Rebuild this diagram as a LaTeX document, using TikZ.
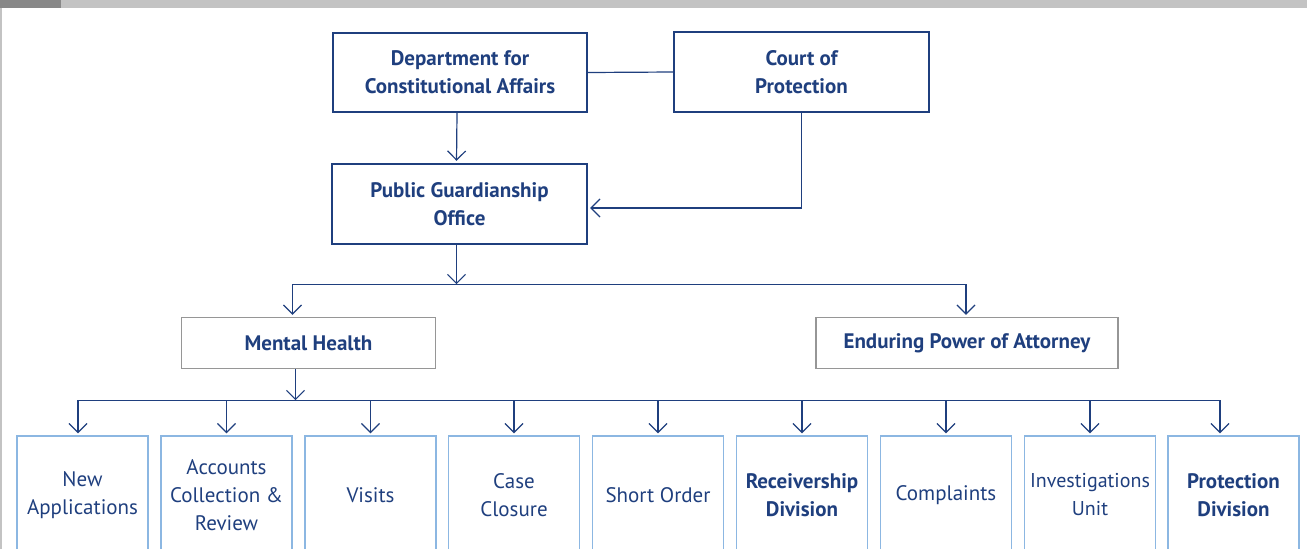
\documentclass[tikz,border=0pt]{standalone}
\usepackage{fontspec}
\setmainfont{PT Sans}
\usetikzlibrary{arrows.meta,calc}
\definecolor{navy}{RGB}{31,63,126}
\definecolor{lblue}{RGB}{140,183,226}
\definecolor{mgray}{RGB}{150,150,150}
\definecolor{barA}{RGB}{136,136,136}
\definecolor{barB}{RGB}{195,195,195}
\begin{document}
\begin{tikzpicture}[x=1pt,y=-1pt,
  every node/.style={text=navy,align=center,inner sep=0pt},
  topbox/.style={draw=navy,line width=2.4pt,font=\bfseries\fontsize{21}{28}\selectfont},
  courtbox/.style={draw=navy,line width=1.4pt,font=\bfseries\fontsize{21}{28}\selectfont},
  midbox/.style={draw=mgray,line width=1.4pt,minimum height=51pt,font=\bfseries\fontsize{21}{28}\selectfont},
  unitbox/.style={draw=lblue,line width=1.4pt,minimum width=131pt,minimum height=118pt,font=\fontsize{21}{28}\selectfont},
  boldunit/.style={unitbox,font=\bfseries\fontsize{21}{28}\selectfont},
  conn/.style={draw=navy,line width=1.2pt},
  arr/.style={conn,-{Straight Barb[length=9pt,width=18pt]},shorten >=2pt}]
\useasboundingbox (0,0) rectangle (1307,549);
% top bar and left rule
\fill[barB] (61,0) rectangle (1307,8);
\fill[barA] (0,0) rectangle (61,8);
\fill[barB] (0,8) rectangle (1.5,549);
% top nodes
\node[topbox,minimum width=254pt,minimum height=79pt] (dca) at (460,72.5) {Department for\\Constitutional Affairs};
\node[courtbox,minimum width=255pt,minimum height=80pt] (court) at (801.5,72) {Court of\\Protection};
\node[topbox,minimum width=255pt,minimum height=80pt] (pgo) at (459.5,204) {Public Guardianship\\Office};
\node[midbox,minimum width=254pt] (mh) at (308.5,343) {Mental Health};
\node[midbox,minimum width=302pt] (epa) at (967,343) {Enduring Power of Attorney\strut};
% unit nodes
\node[unitbox] (u1) at (82.5,495) {New\\Applications};
\node[unitbox] (u2) at (226.5,495) {Accounts\\Collection \&\\Review};
\node[unitbox] (u3) at (370.5,495) {Visits};
\node[unitbox] (u4) at (514,495) {Case\\Closure};
\node[unitbox] (u5) at (658,495) {Short Order};
\node[boldunit] (u6) at (802,495) {Receivership\\Division};
\node[unitbox] (u7) at (946,495) {Complaints};
\node[unitbox,font=\fontsize{20}{28}\selectfont] (u8) at (1090,495) {Investigations\\Unit};
\node[boldunit] (u9) at (1233.5,495) {Protection\\Division};
% connectors top
\draw[conn] (dca.east) -- (court.west);
\draw[arr] ($(dca.south)+(-3,0)$) -- ($(pgo.north)+(-3,0)$);
\draw[arr] (court.south) |- ($(pgo.east)+(0,4)$);
% PGO to divisions
\coordinate (b1) at ($(pgo.south)+(-3,39)$);
\coordinate (mhin) at ($(mh.north)+(-16,0)$);
\coordinate (epain) at ($(epa.north)+(-1,0)$);
\draw[arr] ($(pgo.south)+(-3,0)$) -- ($(b1)+(0,2)$);
\draw[conn] (mhin |- b1) -- (epain |- b1);
\draw[arr] (mhin |- b1) -- (mhin);
\draw[arr] (epain |- b1) -- (epain);
% MH to units
\coordinate (mhout) at ($(mh.south)+(-13,0)$);
\coordinate (b2) at ($(mhout)+(0,31)$);
\coordinate (u1in) at ($(u1.north)+(-4.5,0)$);
\coordinate (u9in) at ($(u9.north)+(-13.5,0)$);
\draw[arr] (mhout) -- ($(b2)+(0,2)$);
\draw[conn] (u1in |- b2) -- (u9in |- b2);
\draw[arr] (u1in |- b2) -- (u1in);
\foreach \u in {u2,u3,u4,u5,u6,u7,u8}{
  \draw[arr] (\u.north |- b2) -- (\u.north);
}
\draw[arr] (u9in |- b2) -- (u9in);
\end{tikzpicture}
\end{document}
